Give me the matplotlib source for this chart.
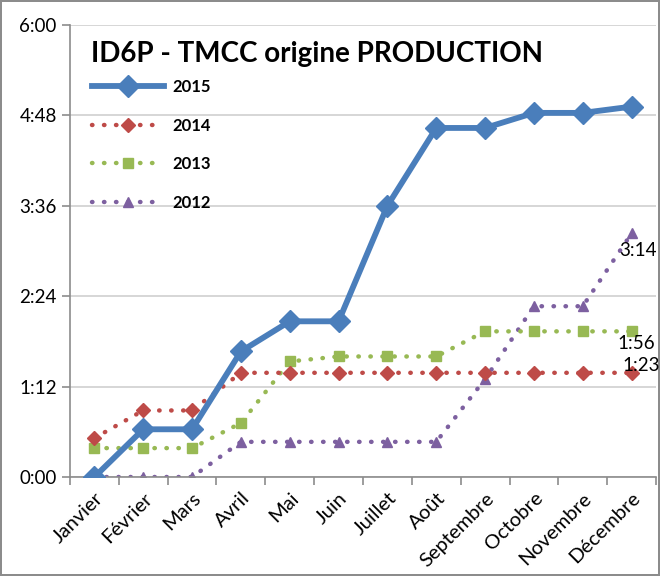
import numpy as np
import matplotlib.pyplot as plt
from matplotlib.ticker import FixedLocator, FuncFormatter

plt.rcParams['font.family'] = ['Lato', 'DejaVu Sans']

mois = ['Janvier', 'Février', 'Mars', 'Avril', 'Mai', 'Juin', 'Juillet',
        'Août', 'Septembre', 'Octobre', 'Novembre', 'Décembre']

# values in minutes
v2015 = [0, 38, 38, 100, 124, 124, 216, 278, 278, 290, 290, 295]
v2014 = [31, 53, 53, 83, 83, 83, 83, 83, 83, 83, 83, 83]
v2013 = [23, 23, 23, 43, 92, 96, 96, 96, 116, 116, 116, 116]
v2012 = [0, 0, 0, 28, 28, 28, 28, 28, 78, 136, 136, 194]

def hhmm(m, pos=None):
    m = int(round(m))
    return '%d:%02d' % (m // 60, m % 60)

fig = plt.figure(figsize=(6.6, 5.76), dpi=100)
fig.patch.set_edgecolor('#8c8c8c')
fig.patch.set_linewidth(1.5)
ax = fig.add_axes([70 / 660, 1 - 477 / 576, 586 / 660, 452 / 576])

x = np.arange(len(mois))
dot = (0, (0.1, 2.6))

ax.plot(x, v2015, color='#4A7EBB', lw=4.2, marker='D', ms=11,
        solid_joinstyle='round', label='2015', zorder=5)
ax.plot(x, v2014, color='#BE4B48', lw=3.2, ls=dot, dash_capstyle='round',
        marker='D', ms=7, label='2014', zorder=4)
ax.plot(x, v2013, color='#98B954', lw=3.2, ls=dot, dash_capstyle='round',
        marker='s', ms=7, label='2013', zorder=3)
ax.plot(x, v2012, color='#7D60A0', lw=3.2, ls=dot, dash_capstyle='round',
        marker='^', ms=7, label='2012', zorder=2)

# end labels
ax.text(x[-1] - 0.25, v2012[-1] - 14, hhmm(v2012[-1]), fontsize=13.5, va='center', zorder=6)
ax.text(x[-1] - 0.28, v2013[-1] - 10, hhmm(v2013[-1]), fontsize=13.5, va='center', zorder=6)
ax.text(x[-1] - 0.18, v2014[-1] + 6, hhmm(v2014[-1]), fontsize=13.5, va='center', zorder=6)

ax.set_xlim(-0.5, len(mois) - 0.5)
ax.set_ylim(0, 360)
ax.yaxis.set_major_locator(FixedLocator(np.arange(0, 361, 72)))
ax.yaxis.set_major_formatter(FuncFormatter(hhmm))
ax.grid(axis='y', color='#d0d0d0', lw=1.2)
ax.set_axisbelow(True)

ax.set_xticks(x)
ax.set_xticklabels(mois, rotation=45, ha='right', rotation_mode='anchor', fontsize=14.5)
ax.tick_params(axis='x', which='major', length=0, pad=9)
ax.set_xticks(np.arange(-0.5, len(mois), 1), minor=True)
ax.tick_params(axis='x', which='minor', length=6, color='#8c8c8c', width=1.2)
ax.tick_params(axis='y', labelsize=13.5, length=6, color='#8c8c8c', width=1.2)

for s in ['top', 'right']:
    ax.spines[s].set_visible(False)
for s in ['left', 'bottom']:
    ax.spines[s].set_color('#8c8c8c')
    ax.spines[s].set_linewidth(1.2)

ax.text(0.035, 0.965, 'ID6P - TMCC origine PRODUCTION', transform=ax.transAxes,
        fontsize=20, fontweight='bold', va='top')
leg = ax.legend(loc='upper left', bbox_to_anchor=(0.012, 0.913), frameon=False,
                handlelength=4.3, handletextpad=0.5, labelspacing=1.35,
                prop={'weight': 'bold', 'size': 12})

fig.savefig('out.png', dpi=100)
